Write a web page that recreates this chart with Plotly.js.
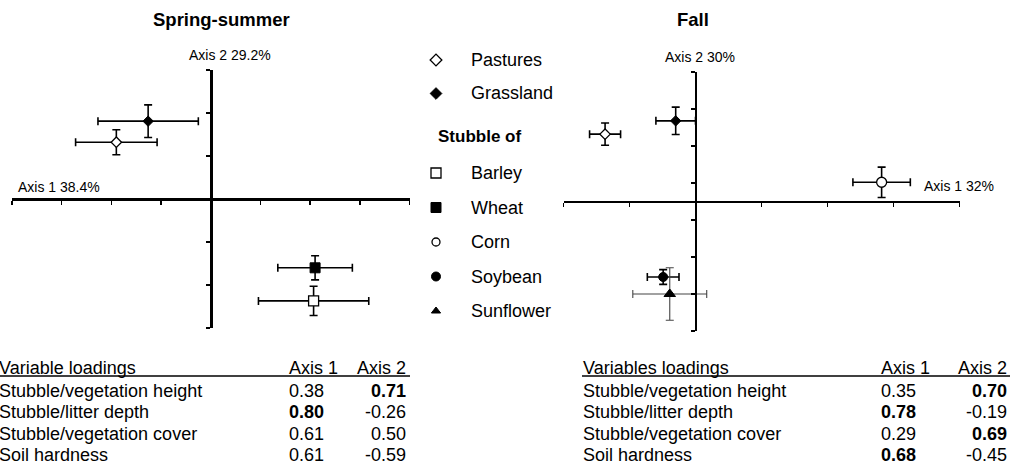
<!DOCTYPE html>
<html>
<head>
<meta charset="utf-8">
<script src="https://cdn.plot.ly/plotly-3.0.1.min.js"></script>
<style>html,body{margin:0;padding:0;background:#fff;}#chart{width:1014px;height:465px;}</style>
</head>
<body>
<div id="chart"></div>
<script>
// ---------- DATA ----------
const springNames = ['Pastures', 'Grassland', 'Barley', 'Wheat'];
const springAxis1 = [-1.90, -1.26, 2.07, 2.10];
const springAxis2 = [1.32, 1.81, -2.37, -1.60];
const springErr1  = [0.82, 1.01, 1.11, 0.75];
const springErr2  = [0.29, 0.38, 0.34, 0.28];

const fallNames = ['Pastures', 'Grassland', 'Corn', 'Soybean', 'Sunflower'];
const fallAxis1 = [-1.37, -0.30, 2.82, -0.49, -0.39];
const fallAxis2 = [1.82, 2.18, 0.52, -2.04, -2.50];
const fallErr1  = [0.235, 0.30, 0.435, 0.24, 0.56];
const fallErr2  = [0.30, 0.37, 0.41, 0.20, 0.71];

const legendGroup1 = ['Pastures', 'Grassland'];
const legendHeader = 'Stubble of';
const legendGroup2 = ['Barley', 'Wheat', 'Corn', 'Soybean', 'Sunflower'];

const loadingVars = ['Stubble/vegetation height', 'Stubble/litter depth', 'Stubble/vegetation cover', 'Soil hardness'];
const springLoad1 = [0.38, 0.80, 0.61, 0.61];
const springLoad2 = [0.71, -0.26, 0.50, -0.59];
const fallLoad1   = [0.35, 0.78, 0.29, 0.68];
const fallLoad2   = [0.70, -0.19, 0.69, -0.45];

const springTitle = 'Spring-summer';
const fallTitle = 'Fall';
const springAx1Label = 'Axis 1 38.4%';
const springAx2Label = 'Axis 2 29.2%';
const fallAx1Label = 'Axis 1 32%';
const fallAx2Label = 'Axis 2 30%';
const springTableHead = 'Variable loadings';
const fallTableHead = 'Variables loadings';
const colHeads = ['Axis 1', 'Axis 2'];

// ---------- STYLES ----------
const W = 1014, H = 465;
const px = x => x / W;
const py = y => 1 - y / H;
const FONT = 'Liberation Sans, Arial, Helvetica, sans-serif';

const style = {
  Pastures:  {symbol: 'diamond', fill: '#fff', size: 8,  lsize: 9},
  Grassland: {symbol: 'diamond', fill: '#000', size: 8,  lsize: 9},
  Barley:    {symbol: 'square', fill: '#fff', size: 10, lsize: 10},
  Wheat:     {symbol: 'square', fill: '#000', size: 10, lsize: 10},
  Corn:      {symbol: 'circle', fill: '#fff', size: 10, lsize: 8},
  Soybean:   {symbol: 'circle', fill: '#000', size: 9,  lsize: 9},
  Sunflower: {symbol: 'triangle-up', fill: '#000', size: 10, lsize: 8}
};
const errColor = n => n === 'Sunflower' ? '#444' : '#000';
const errThick = n => n === 'Sunflower' ? 1.1 : 1.6;

// panel geometry (pixels)
const L = {x: [12, 409.5], y: [70, 328], xr: [-4, 4], yr: [-3, 3], yt0: 0};
const R = {x: [563.5, 959.5], y: [72, 331], xr: [-2, 4], yr: [-3.5, 3.5], yt0: 0.5};

function axes(P) {
  const xd = [px(P.x[0]), px(P.x[1])];
  const yd = [py(P.y[1]), py(P.y[0])];
  const xpos = xd[0] + (0 - P.xr[0]) / (P.xr[1] - P.xr[0]) * (xd[1] - xd[0]);
  const ypos = yd[0] + (0 - P.yr[0]) / (P.yr[1] - P.yr[0]) * (yd[1] - yd[0]);
  const common = {showline: true, linewidth: 2.8, linecolor: '#000', ticks: 'outside', ticklen: 4,
    tickwidth: 1.5, tickcolor: '#000', tickmode: 'linear', dtick: 1, showticklabels: false,
    showgrid: false, zeroline: false, fixedrange: true, anchor: 'free'};
  return [
    Object.assign({}, common, {domain: xd, range: P.xr, tick0: 0, position: ypos}),
    Object.assign({}, common, {domain: yd, range: P.yr, tick0: P.yt0, position: xpos})
  ];
}
const [xa1, ya1] = axes(L);
const [xa2, ya2] = axes(R);

function pointTraces(names, a1, a2, e1, e2, xa, ya) {
  return names.map((n, i) => ({
    type: 'scatter', mode: 'markers', x: [a1[i]], y: [a2[i]], xaxis: xa, yaxis: ya,
    name: n, showlegend: false, hoverinfo: 'skip', cliponaxis: false,
    error_x: {type: 'data', array: [e1[i]], visible: true, color: errColor(n), thickness: errThick(n), width: 4},
    error_y: {type: 'data', array: [e2[i]], visible: true, color: errColor(n), thickness: errThick(n), width: 4},
    marker: {symbol: style[n].symbol, size: style[n].size, color: style[n].fill, line: {color: '#000', width: style[n].fill === '#fff' ? 1.3 : 1}}
  }));
}

const traces = [].concat(
  pointTraces(springNames, springAxis1, springAxis2, springErr1, springErr2, 'x', 'y'),
  pointTraces(fallNames, fallAxis1, fallAxis2, fallErr1, fallErr2, 'x2', 'y2')
);

// legend (layout positions)
const legMarkX = 436, legTextX = 469;
const legRows1 = legendGroup1.map((n, i) => 60 + i * 33.5);
const legHeadY = 136;
const legRows2 = legendGroup2.map((n, i) => 173 + i * 34.5);
const legNames = legendGroup1.concat(legendGroup2);
const legYs = legRows1.concat(legRows2);
legNames.forEach((n, i) => {
  traces.push({
    type: 'scatter', mode: 'markers', x: [legMarkX], y: [legYs[i]], xaxis: 'x3', yaxis: 'y3',
    showlegend: false, hoverinfo: 'skip', cliponaxis: false,
    marker: {symbol: style[n].symbol, size: style[n].lsize, color: style[n].fill, line: {color: '#000', width: style[n].fill === '#fff' ? 1.3 : 1}}
  });
});

const ann = [];
function text(t, x, y, opts) {
  ann.push(Object.assign({text: t, x: px(x), y: py(y), xref: 'paper', yref: 'paper', showarrow: false,
    xanchor: 'left', yanchor: 'middle', font: {family: FONT, size: 18, color: '#000'}}, opts || {}));
}
// titles
text('<b>' + springTitle + '</b>', 221.7, 20, {xanchor: 'center', font: {family: FONT, size: 18.5, color: '#000'}});
text('<b>' + fallTitle + '</b>', 693, 20, {xanchor: 'center', font: {family: FONT, size: 18.5, color: '#000'}});
// axis labels
const f14 = {family: FONT, size: 14, color: '#000'};
text(springAx2Label, 229.5, 55, {xanchor: 'center', font: f14});
text(springAx1Label, 16, 187, {font: f14});
text(fallAx2Label, 699.5, 57, {xanchor: 'center', font: f14});
text(fallAx1Label, 922, 186, {font: f14});
// legend text
legendGroup1.forEach((n, i) => text(n, legTextX, legRows1[i]));
text('<b>' + legendHeader + '</b>', 436, legHeadY, {font: {family: FONT, size: 17, color: '#000'}});
legendGroup2.forEach((n, i) => text(n, legTextX, legRows2[i]));

// tables
const fmt = v => {
  const s = v.toFixed(2);
  return Math.abs(v) >= 0.65 ? '<b>' + s + '</b>' : s;
};
function table(head, x0, c1x, c2x, l1, l2) {
  const headY = 367.5, rowY0 = 390.5, step = 21.5;
  text(head, x0, headY);
  text(colHeads[0], c1x, headY);
  text(colHeads[1], c2x, headY, {xanchor: 'right'});
  loadingVars.forEach((v, i) => {
    const y = rowY0 + i * step;
    text(v, x0, y);
    text(fmt(l1[i]), c1x, y);
    text(fmt(l2[i]), c2x, y, {xanchor: 'right'});
  });
}
table(springTableHead, -3, 287, 408, springLoad1, springLoad2);
table(fallTableHead, 581, 878.5, 1008.5, fallLoad1, fallLoad2);

const shapes = [
  {type: 'line', xref: 'paper', yref: 'paper', x0: px(0), x1: px(410), y0: py(376), y1: py(376), line: {color: '#000', width: 1.3}},
  {type: 'line', xref: 'paper', yref: 'paper', x0: px(582), x1: px(1010), y0: py(376), y1: py(376), line: {color: '#000', width: 1.3}}
];

const layout = {
  width: W, height: H, margin: {l: 0, r: 0, t: 0, b: 0, pad: 0},
  paper_bgcolor: '#fff', plot_bgcolor: 'rgba(0,0,0,0)', showlegend: false,
  font: {family: FONT, color: '#000'},
  xaxis: xa1, yaxis: ya1, xaxis2: xa2, yaxis2: ya2,
  xaxis3: {domain: [0, 1], range: [0, W], visible: false, anchor: 'y3', fixedrange: true},
  yaxis3: {domain: [0, 1], range: [H, 0], visible: false, anchor: 'x3', fixedrange: true},
  annotations: ann, shapes: shapes
};

Plotly.newPlot('chart', traces, layout, {displayModeBar: false, staticPlot: true});
</script>
</body>
</html>
